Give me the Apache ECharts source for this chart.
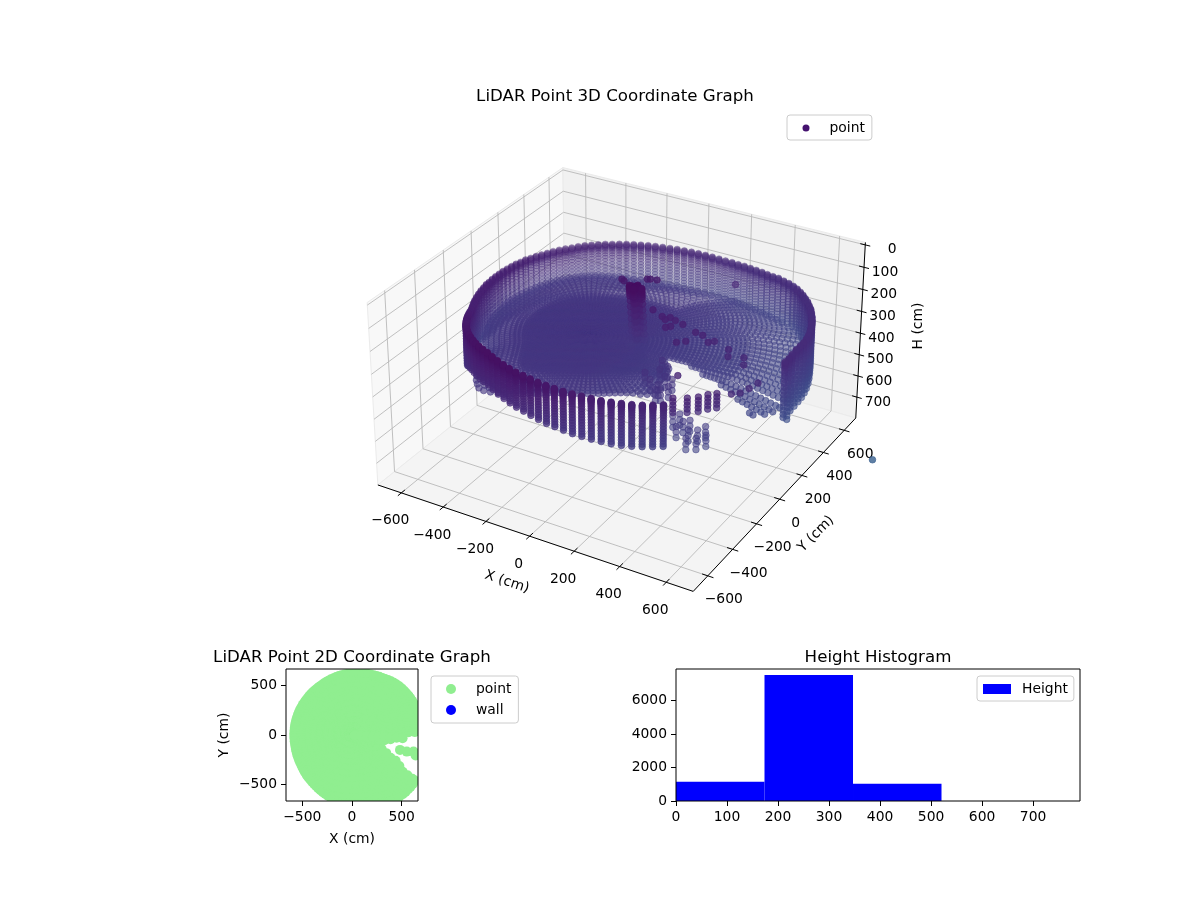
<!DOCTYPE html>
<html><head><meta charset="utf-8">
<style>html,body{margin:0;padding:0;background:#fff}#c{width:1200px;height:900px}</style>
<script src="https://cdn.jsdelivr.net/npm/echarts@6/dist/echarts.min.js"></script>
</head><body><div id="c"></div>
<script>
// ---------- data ----------
const xTicks=[-600,-400,-200,0,200,400,600];
const yTicks=[-600,-400,-200,0,200,400,600];
const hTicks=[0,100,200,300,400,500,600,700];
const azimuth=[0,2.7,5.4,8.1,10.8,13.5,16.2,18.9,21.6,24.3,
27,29.7,32.4,35.1,37.8,40.5,43.2,45.9,48.6,51.3,
54,56.7,59.4,62.1,64.8,67.5,70.2,72.9,75.6,78.3,
81,83.7,86.4,89.1,91.8,94.5,97.2,99.9,102.6,105.3,
108,110.7,113.4,116.1,118.8,121.5,124.2,126.9,129.6,132.3,
135,137.7,140.4,143.1,145.8,148.5,151.2,153.9,156.6,159.3,
162,164.7,167.4,170.1,172.8,175.5,178.2,180.9,183.6,186.3,
189,191.7,194.4,197.1,199.8,202.5,205.2,207.9,210.6,213.3,
216,218.7,221.4,224.1,226.8,229.5,232.2,234.9,237.6,240.3,
243,245.7,248.4,251.1,253.8,256.5,259.2,261.9,264.6,267.3,
270,272.7,275.4,278.1,280.8,283.5,286.2,288.9,291.6,294.3,
297,299.7,302.4,305.1,307.8,310.5,313.2,315.9,318.6,321.3,
324,326.7,329.4,332.1,334.8,337.5,340.2,342.9,345.6,348.3,
351,353.7,356.4];
const wallRange=[760,760,760,759,757,755,752,749,747,745,
743,742,739,738,735,734,733,731,728,723,
717,711,705,700,697,693,690,687,684,682,
679,677,674,671,668,666,663,660,657,654,
651,649,646,643,640,637,635,632,630,627,
625,622,619,617,615,613,611,609,607,605,
604,602,600,598,597,596,595,594,594,593,
592,592,593,594,595,596,597,598,600,604,
609,615,621,628,635,642,649,656,663,670,
677,684,691,697,702,708,714,719,725,731,
735,741,747,753,759,765,771,776,782,787,
792,797,802,807,811,815,815,815,815,815,
815,813,810,807,805,802,799,795,792,788,
783,776,768];
const planRange=[760,760,760,759,757,755,753,751,750,749,
747,746,743,742,739,737,735,732,728,723,
717,711,705,700,697,693,690,687,684,682,
679,677,674,671,668,666,663,660,657,654,
651,649,646,643,640,638,637,635,635,634,
633,632,631,630,630,630,630,630,630,630,
630,630,630,630,630,630,630,630,630,630,
630,630,632,633,635,636,638,639,641,645,
649,653,657,661,664,668,672,678,683,689,
695,701,707,712,717,722,727,731,736,741,
745,750,755,760,764,769,774,778,783,787,
812,817,822,827,831,835,835,835,835,835,
830,825,818,812,805,802,799,795,792,788,
783,776,768];
const wallTopH=[122,124,127,129,132,134,137,139,142,144,
147,149,152,154,157,160,164,167,171,174,
178,180,186,190,193,196,199,201,204,205,
207,207,206,205,204,203,202,200,199,197,
195,193,191,189,187,185,184,181,180,178,
176,175,175,173,172,171,171,170,168,167,
165,165,163,162,162,161,161,160,160,160,
156,157,157,158,158,158,158,157,155,148,
142,136,130,124,120,114,109,105,100,95,
91,87,83,80,78,80,82,84,86,88,
89,91,93,95,97,99,101,103,105,108,
110,112,114,115,115,115,115,115,115,115,
115,115,115,115,115,115,115,115,115,115,
112,115,118];
const wallBottomH=[367,366,366,365,365,363,360,357,353,349,
346,344,344,346,347,349,350,352,354,358,
366,370,372,374,376,378,380,381,382,383,
384,385,386,388,390,392,393,394,395,396,
396,396,396,396,396,395,395,394,394,393,
393,392,392,391,391,391,390,390,389,389,
388,388,388,388,389,389,390,390,391,391,
380,378,376,372,368,365,362,358,352,345,
340,325,310,300,295,285,270,255,245,235,
230,225,222,218,216,220,224,228,232,236,
240,245,250,255,258,263,268,272,276,280,
285,288,289,289,289,289,289,289,289,289,
289,286,283,280,277,274,272,270,273,300,
350,378,360];
const wallLevels=[0,0.015,0.03,0.05,0.07,0.1,0.14,0.19,0.25,0.31,0.38,0.45,0.52,0.59,0.66,0.73,0.8,0.87,0.94,1];
const wallOpenFrom=311, wallOpenTo=349;
const floorCentre=[-134,-32];
const floorReach=[890,890,888,885,880,879,877,876,875,875,
875,872,862,850,838,825,810,795,780,765,
750,735,722,710,700,688,677,665,655,648,
640,632,625,620,616,612,610,610,610,610,
610,611,612,614,615,612,610,605,600,595,
590,583,575,567,558,550,542,535,527,520,
515,508,500,492,486,480,475,470,465,460,
455,450,446,442,438,436,434,432,430,430,
430,432,436,442,450,458,468,480,495,510,
530,550,570,585,600,600,590,575,560,545,
530,515,500,487,480,472,465,460,457,456,
456,456,456,457,458,460,463,468,475,485,
505,517,527,537,560,620,680,740,800,845,
870,880,885];
const floorRimH=[335,335,335,335,335,335,335,335,335,335,
335,335,335,335,335,335,335,335,335,335,
335,335,335,335,335,335,335,335,335,335,
335,335,335,335,335,335,335,335,335,335,
335,335,335,335,335,335,335,335,335,335,
335,335,335,335,335,335,335,335,335,335,
335,335,335,335,335,335,335,335,335,335,
335,335,335,335,335,335,335,335,335,335,
335,335,330,325,320,315,310,305,300,300,
300,300,300,300,300,300,300,300,300,300,
300,300,300,300,300,300,300,300,300,300,
300,300,300,300,300,300,300,300,300,300,
300,300,300,300,300,300,305,310,320,325,
330,335,335];
const floorFraction=[0.02,0.04,0.06,0.08,0.1,0.12,0.14,0.16,0.18,0.2,0.22,0.24,0.26,0.28,0.3,0.32,0.34,0.36,0.38,0.4,0.42,0.44,0.46,0.48,0.5,0.52,0.54,0.56,0.58,0.6,0.64,0.68,0.72,0.77,0.82,0.87,0.92,0.97];
const floorRise=[0,0,0,0,0,0,0,0,0,0,0,0,0,0,0,0,0,0,0,0,0,0,0,0,0,0,0,0,0,0,0,0,0,0.15,0.3,0.5,0.7,0.9];
const extraFraction=[0.62,0.66,0.7,0.745,0.795,0.845,0.895,0.945,0.99];
const extraRise=[0,0,0,0.08,0.22,0.4,0.6,0.8,1];
const extraReachMin=700;
const floorBaseH=300;
const floorGapAz=[0,356.4,353.7,351,348.3,345.6,342.9,340.2,337.5,334.8,332.1];
const floorGapFrom=[345,365,385,405,415,430,445,460,475,490,500];
const floorGapTo=[450,520,630,720,800,860,9999,9999,9999,9999,9999];
const pillarH=[60,66,72,78,85,95,105,125,150,175,200,225,250,275,300,325,350,375];
const pillarX=[39,39,39,39,40,41,42,44,46,49,52,54,57,59,61,63,65,67];
const pillarY=[32,32,32,32,32,31,30,30,28,26,24,22,20,18,16,14,12,10];
const pillarAlpha=[0.85,0.85,0.85,0.85,0.85,0.8,0.75,0.6,0.55,0.5,0.5,0.45,0.45,0.45,0.4,0.4,0.4,0.35];
const pillarSpread=[-28,-14,0,14,28];
const scatterX=[-100,-85,-12,-1,26,317,136,194,216,225,254,294,248,261,367,402,446,463,341,368,539,563,618,643,750,740,726,702,468,1097];
const scatterY=[164,155,215,221,228,352,0,-30,-45,-21,-32,-45,-100,-83,-76,-83,-121,-102,-182,-157,-131,-181,-158,-208,-300,-352,-397,-420,-401,0];
const scatterH=[120,120,120,120,120,120,120,120,120,120,120,120,120,120,120,120,120,120,120,120,120,120,120,120,120,120,120,120,120,500];
const stubX=[564,609,640,662,686];
const stubY=[-613,-587,-560,-528,-504];
const stubH=[80,95,110,125,140];
const lowX=[483,498,534,579,609,623,653,632,600,529,552,271,311,297,340,348,388,357,302,374,374,259];
const lowY=[-463,-437,-477,-520,-503,-467,-520,-557,-576,-521,-457,-165,-195,-230,-267,-334,-327,-372,-315,-273,-363,-279];
const lowH=[280,280,280,280,280,280,280,280,280,280,280,250,250,250,250,250,250,250,250,250,250,250];
const lowSpreadH=[-24,0,24];
// 2D plan
const planRings=[30,90,150,210,270,330,390,450,510,570,630,690,750,810];
const planGapAz=[0,356.4,353.7,351,348.3,345.6,342.9,340.2,337.5,334.8,332.1,329.4,326.7];
const planGapFrom=[560,530,440,370,320,295,285,290,320,370,430,510,600];
const planBlobX=[483,551,619,640];
const planBlobY=[-150,-167,-167,-205];
const planMarkerInset=50;
// histogram
const histEdges=[0,173.5,347,520.5,694,867];
const histCounts=[1156,7535,1036,4,1];
const xLim=[-714,714], yLim=[-714,714], hLim=[-11,800];

// ---------- 3D projection ----------
function depth(X,Y,Z){return 0.433*X-0.75*Y+0.5*Z;}
function project(x,y,h){
  const X=x/(xLim[1]-xLim[0]),Y=y/(yLim[1]-yLim[0]),Z=(0.5-(h-hLim[0])/(hLim[1]-hLim[0]))*0.5;
  const s=1/(1-depth(X,Y,Z)/6);
  return [623+s*(308.5*X+179*Y), 363-s*(-89.35*X+153*Y+357.8*Z), depth(X,Y,Z)];
}
const stops=[[0,68,1,84],[150,71,31,112],[300,69,55,129],[450,62,74,137],[600,55,95,141]];
function shade(v,a){
  v=Math.max(0,Math.min(600,v));let k=0;while(k<stops.length-2&&v>stops[k+1][0])k++;
  const p=stops[k],q=stops[k+1],t=(v-p[0])/(q[0]-p[0]);
  return `rgba(${Math.round(p[1]+t*(q[1]-p[1]))},${Math.round(p[2]+t*(q[2]-p[2]))},${Math.round(p[3]+t*(q[3]-p[3]))},${a.toFixed(2)})`;
}
const cloud=[];
function addPoint(x,y,h,fixedAlpha){
  const p=project(x,y,h);
  const a=fixedAlpha||Math.max(0.32,Math.min(0.88,0.48+0.6*p[2]));
  const col=shade(h+Math.max(0,x)*0.14,a);
  cloud.push({value:[p[0],p[1]],w:p[2],itemStyle:{color:col,borderColor:col,borderWidth:0.8,opacity:1}});
}
azimuth.forEach((az,i)=>{
  const c=Math.cos(az*Math.PI/180),n=Math.sin(az*Math.PI/180);
  if(!(az>wallOpenFrom&&az<wallOpenTo)){
    wallLevels.forEach(l=>addPoint(wallRange[i]*c,wallRange[i]*n,wallTopH[i]+l*(wallBottomH[i]-wallTopH[i])));
  }
  const g=floorGapAz.indexOf(az);
  const ring=(f,rise)=>{
    const d=f*floorReach[i];
    if(g>=0&&d>floorGapFrom[g]&&d<floorGapTo[g])return;
    addPoint(floorCentre[0]+d*c,floorCentre[1]+d*n,floorBaseH+rise*(floorRimH[i]-floorBaseH));
  };
  floorFraction.forEach((f,k)=>ring(f,floorRise[k]));
  if(floorReach[i]>extraReachMin) extraFraction.forEach((f,k)=>ring(f,extraRise[k]));
});
pillarH.forEach((h,i)=>pillarSpread.forEach(d=>{addPoint(pillarX[i]+d,pillarY[i],h,pillarAlpha[i]);addPoint(pillarX[i],pillarY[i]+d*0.6,h,pillarAlpha[i]);}));
scatterX.forEach((x,i)=>addPoint(x,scatterY[i],scatterH[i],i===5?0.55:0.8));
stubX.forEach((x,i)=>stubH.forEach(h=>addPoint(x,stubY[i],h,0.75)));
lowX.forEach((x,i)=>lowSpreadH.forEach(d=>addPoint(x,lowY[i],lowH[i]+d,0.6)));
cloud.sort((a,b)=>a.w-b.w);

// 2D plan points
const plan=[];
azimuth.forEach((az,i)=>{
  const c=Math.cos(az*Math.PI/180),n=Math.sin(az*Math.PI/180);
  const outer=planRange[i]-planMarkerInset,g=planGapAz.indexOf(az);
  const rs=planRings.filter(r=>r<outer).concat([outer]);
  rs.forEach(r=>{ if(g>=0&&r>planGapFrom[g])return; plan.push([r*c,r*n]);});
});
planBlobX.forEach((x,i)=>plan.push([x,planBlobY[i]]));

// ---------- 3D frame built through the projection ----------
const xa=xLim[0],xb=xLim[1],ya=yLim[0],yb=yLim[1],ht=hLim[0],hb=hLim[1];
const panes=[
 {c:'#f8f8f8',p:[[xa,ya,ht],[xa,yb,ht],[xa,yb,hb],[xa,ya,hb]]},
 {c:'#f1f1f1',p:[[xa,yb,ht],[xb,yb,ht],[xb,yb,hb],[xa,yb,hb]]},
 {c:'#f4f4f4',p:[[xa,ya,hb],[xb,ya,hb],[xb,yb,hb],[xa,yb,hb]]}
].map(o=>({c:o.c,p:o.p.map(q=>project(q[0],q[1],q[2]).slice(0,2))}));
const segs=[];
function seg(a,b,c,w){segs.push({a:project(a[0],a[1],a[2]),b:project(b[0],b[1],b[2]),c,w});}
const GC='#b9b9b9';
xTicks.forEach(t=>{seg([t,ya,hb],[t,yb,hb],GC,0.9);seg([t,yb,hb],[t,yb,ht],GC,0.9);});
yTicks.forEach(t=>{seg([xb,t,hb],[xa,t,hb],GC,0.9);seg([xa,t,hb],[xa,t,ht],GC,0.9);});
hTicks.forEach(t=>{seg([xa,ya,t],[xa,yb,t],GC,0.9);seg([xa,yb,t],[xb,yb,t],GC,0.9);});
seg([xa,ya,hb],[xb,ya,hb],'#000',1);seg([xb,ya,hb],[xb,yb,hb],'#000',1);seg([xb,yb,hb],[xb,yb,ht],'#000',1);
xTicks.forEach(t=>seg([t,ya-24,hb],[t,ya+24,hb],'#000',1));
yTicks.forEach(t=>seg([xb-24,t,hb],[xb+24,t,hb],'#000',1));
hTicks.forEach(t=>seg([xb-22,yb,t],[xb+22,yb,t],'#000',1));
const minus=v=>String(v).replace('-','\u2212');
const txt=[];
xTicks.forEach(t=>{const p=project(t,ya,hb);txt.push([p[0]-11,p[1]+28,minus(t),0]);});
yTicks.forEach(t=>{const p=project(xb,t,hb);txt.push([p[0]+16,p[1]+24,minus(t),0]);});
hTicks.forEach(t=>{const p=project(xb,yb,t);txt.push([p[0]+(t===0?27:21),p[1]+5,minus(t),0]);});
txt.push([507,582,'X (cm)',-18],[816,534,'Y (cm)',45],[918,326,'H (cm)',90]);

const FF='DejaVu Sans',FS=13.89;
const lab={color:'#000',fontFamily:FF,fontSize:FS};
const idx=a=>a.map((_,i)=>[i]);
const legendBase={backgroundColor:'rgba(255,255,255,0.8)',borderColor:'#ccc',borderWidth:1,borderRadius:3,orient:'vertical',selectedMode:false,textStyle:{color:'#000',fontFamily:FF,fontSize:FS}};
function cartAxis(extra,vals,name,gap,margin){
  return Object.assign({type:'value',nameLocation:'middle',name,nameGap:gap,nameTextStyle:lab,
    axisLine:{show:false,onZero:false},
    axisTick:{show:true,length:5,customValues:vals,lineStyle:{color:'#000',width:1}},
    axisLabel:Object.assign({show:true,customValues:vals,margin,formatter:minus},lab),splitLine:{show:false}},extra);
}
const titleStyle={color:'#000',fontFamily:FF,fontSize:16.67,fontWeight:'normal'};
const opt={
 animation:false,backgroundColor:'#fff',
 title:[
  {text:'LiDAR Point 3D Coordinate Graph',left:610,top:83,textAlign:'center',textStyle:titleStyle},
  {text:'LiDAR Point 2D Coordinate Graph',left:347,top:644,textAlign:'center',textStyle:titleStyle},
  {text:'Height Histogram',left:873,top:644,textAlign:'center',textStyle:titleStyle}
 ],
 legend:[
  Object.assign({},legendBase,{left:787,top:115,padding:[6,7,5,15.5],itemWidth:7,itemHeight:7,
    data:[{name:'point',icon:'circle',itemStyle:{color:'#45126f',borderWidth:0,opacity:1}}],
    textStyle:Object.assign({},legendBase.textStyle,{padding:[0,0,0,15]})}),
  Object.assign({},legendBase,{left:431,top:676,padding:[6,7,6,15],itemWidth:10,itemHeight:10,itemGap:7,
    data:[{name:'point',icon:'circle',itemStyle:{color:'#90ee90',borderWidth:0,opacity:1}},{name:'wall',icon:'circle',itemStyle:{color:'#0000ff',opacity:1}}],
    textStyle:Object.assign({},legendBase.textStyle,{padding:[0,0,0,15]})}),
  Object.assign({},legendBase,{left:977,top:676,padding:[6,6,5,6],itemWidth:28,itemHeight:10,
    data:[{name:'Height',icon:'rect',itemStyle:{color:'#0000ff',opacity:1}}],
    textStyle:Object.assign({},legendBase.textStyle,{padding:[0,0,0,6]})})
 ],
 grid:[
  {left:0,top:0,width:1200,height:900,show:false},
  {left:286,top:669,width:132,height:132,show:true,borderColor:'#000',borderWidth:1,backgroundColor:'transparent',z:10},
  {left:676,top:669,width:404,height:132,show:true,borderColor:'#000',borderWidth:1,backgroundColor:'transparent',z:10}
 ],
 xAxis:[
  {gridIndex:0,type:'value',min:0,max:1200,show:false},
  cartAxis({gridIndex:1,min:-664,max:664},[-500,0,500],'X (cm)',31,9),
  cartAxis({gridIndex:2,min:0,max:792},[0,100,200,300,400,500,600,700],'',0,9)
 ],
 yAxis:[
  {gridIndex:0,type:'value',min:0,max:900,inverse:true,show:false},
  cartAxis({gridIndex:1,min:-664,max:664},[-500,0,500],'Y (cm)',55,9),
  cartAxis({gridIndex:2,min:0,max:7895},[0,2000,4000,6000],'',0,9)
 ],
 series:[
  {type:'custom',name:'panes',silent:true,xAxisIndex:0,yAxisIndex:0,clip:false,z:1,data:idx(panes),
   renderItem:(p,api)=>{const o=panes[p.dataIndex];return{type:'polygon',shape:{points:o.p.map(q=>api.coord(q))},style:{fill:o.c,stroke:'#ebebeb',lineWidth:1}};}},
  {type:'custom',name:'frame',silent:true,xAxisIndex:0,yAxisIndex:0,clip:false,z:2,data:idx(segs),
   renderItem:(p,api)=>{const o=segs[p.dataIndex],a=api.coord(o.a),b=api.coord(o.b);return{type:'line',shape:{x1:a[0],y1:a[1],x2:b[0],y2:b[1]},style:{stroke:o.c,lineWidth:o.w}};}},
  {type:'custom',name:'labels3d',silent:true,xAxisIndex:0,yAxisIndex:0,clip:false,z:3,data:idx(txt),
   renderItem:(p,api)=>{const o=txt[p.dataIndex],a=api.coord([o[0],o[1]]);return{type:'text',x:a[0],y:a[1],rotation:o[3]*Math.PI/180,style:{text:o[2],align:'center',verticalAlign:'middle',fill:'#000',fontFamily:FF,fontSize:FS}};}},
  {type:'scatter',name:'point',silent:true,xAxisIndex:0,yAxisIndex:0,clip:false,z:4,symbol:'circle',symbolSize:6.6,large:false,progressive:0,data:cloud},
  {type:'custom',name:'point',silent:true,xAxisIndex:1,yAxisIndex:1,clip:true,progressive:0,z:3,itemStyle:{color:'#90ee90',opacity:1},data:plan,
   renderItem:(p,api)=>{const a=api.coord([api.value(0),api.value(1)]);return{type:'circle',shape:{cx:a[0],cy:a[1],r:5},style:{fill:'#90ee90'}};}},
  {type:'scatter',name:'wall',silent:true,xAxisIndex:1,yAxisIndex:1,symbol:'circle',symbolSize:10,itemStyle:{color:'#0000ff',opacity:1},data:[]},
  {type:'custom',name:'Height',silent:true,xAxisIndex:2,yAxisIndex:2,itemStyle:{color:'#0000ff',opacity:1},clip:true,z:3,data:histCounts.map((c,i)=>[histEdges[i],histEdges[i+1],c]),
   renderItem:(p,api)=>{const a=api.coord([api.value(0),api.value(2)]),b=api.coord([api.value(1),0]);
     return{type:'rect',shape:{x:a[0],y:a[1],width:b[0]-a[0],height:b[1]-a[1]},style:{fill:'#0000ff'}};}}
 ]
};
echarts.init(document.getElementById('c'),null,{renderer:'canvas'}).setOption(opt);
</script></body></html>
